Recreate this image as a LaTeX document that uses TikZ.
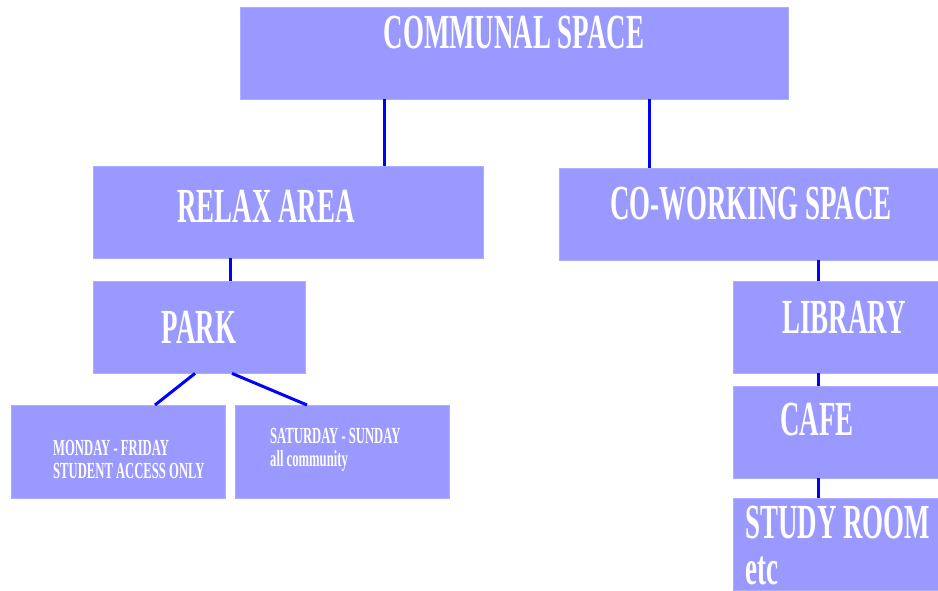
\documentclass[tikz,border=0pt]{standalone}
\usepackage{fontspec}
\newfontfamily\condfont{Liberation Serif}[FakeStretch=0.55]
\usepackage{tikz}

\definecolor{boxfill}{HTML}{9999FF}
\definecolor{linkblue}{HTML}{0000FF}

\begin{document}
\begin{tikzpicture}[x=1pt,y=-1pt,
  box/.style={fill=boxfill,draw=boxfill!80!white,inner sep=0pt,anchor=north west},
  bigtext/.style={text=white,inner sep=0pt,font=\condfont\bfseries\fontsize{49}{46}\selectfont},
  smalltext/.style={text=white,inner sep=0pt,align=left,font=\condfont\bfseries\fontsize{23}{23}\selectfont},
  link/.style={linkblue,line width=3pt}]
\useasboundingbox[fill=white] (0,0) rectangle (938,590);
% boxes
\node[box,minimum width=548pt,minimum height=92pt] (communal) at (240,7) {};
\node[box,minimum width=390pt,minimum height=92pt] (relax) at (93,166) {};
\node[box,minimum width=379pt,minimum height=92pt] (cowork) at (559,168) {};
\node[box,minimum width=212pt,minimum height=92pt] (park) at (93,281) {};
\node[box,minimum width=214pt,minimum height=93pt] (weekday) at (11,405) {};
\node[box,minimum width=214pt,minimum height=93pt] (weekend) at (235,405) {};
\node[box,minimum width=205pt,minimum height=92pt] (library) at (733,281) {};
\node[box,minimum width=205pt,minimum height=92pt] (cafe) at (733,386) {};
\node[box,minimum width=205pt,minimum height=92pt] (study) at (733,498) {};
% texts
\node[bigtext] (communal-t) at (514,33) {COMMUNAL SPACE};
\node[bigtext] (relax-t) at (266,206) {RELAX AREA};
\node[bigtext] (cowork-t) at (751,204) {CO-WORKING SPACE};
\node[bigtext] (park-t) at (199,327) {PARK};
\node[bigtext] (library-t) at (844,317) {LIBRARY};
\node[bigtext,anchor=west] (cafe-t) at (780,420) {CAFE};
\node[bigtext,anchor=west,align=left] (study-t) at (745,546) {STUDY ROOM\\etc};
\node[smalltext,anchor=west] (weekday-t) at (53,459) {MONDAY - FRIDAY\\STUDENT ACCESS ONLY};
\node[smalltext,anchor=west] (weekend-t) at (270,450) {SATURDAY - SUNDAY\\all community};
% links
\draw[link] (communal.south -| 384,0) -- (relax.north -| 384,0);
\draw[link] (communal.south -| 649,0) -- (cowork.north -| 649,0);
\draw[link] (relax.south -| 230,0) -- (park.north -| 230,0);
\draw[link] (park.south -| 195,0) -- (weekday.north -| 155,0);
\draw[link] (park.south -| 232,0) -- (weekend.north -| 307,0);
\draw[link] (cowork.south -| 818,0) -- (library.north -| 818,0);
\draw[link] (library.south -| 818,0) -- (cafe.north -| 818,0);
\draw[link] (cafe.south -| 818,0) -- (study.north -| 818,0);
\end{tikzpicture}
\end{document}
